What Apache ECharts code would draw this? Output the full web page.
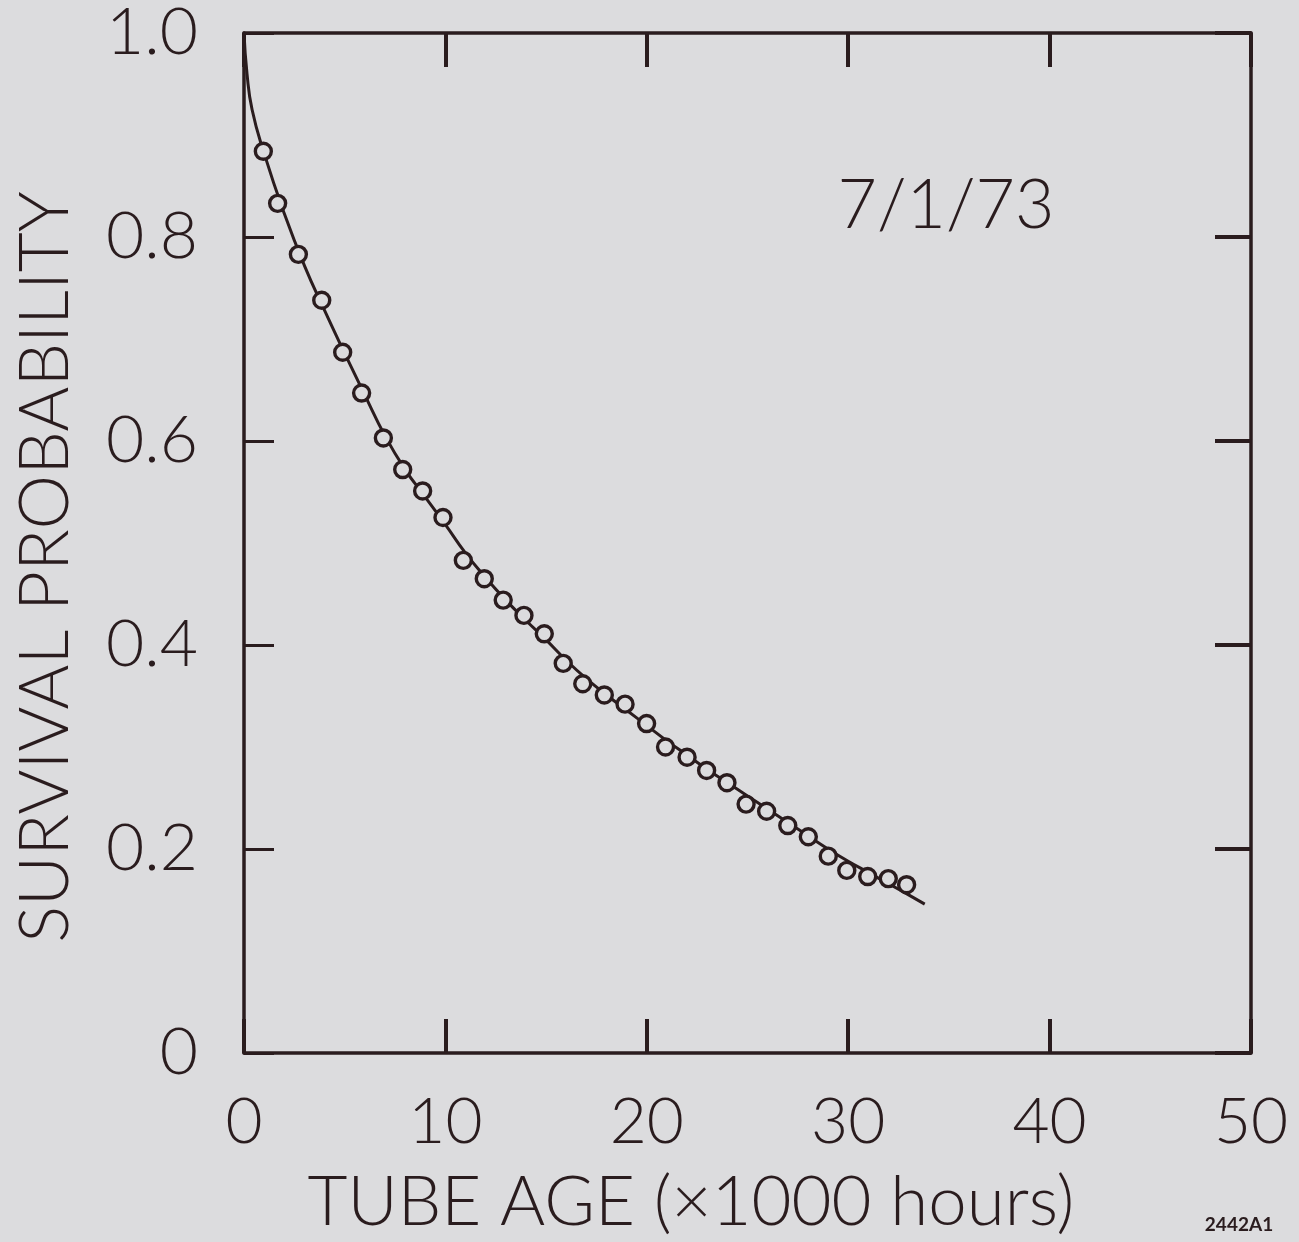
<!DOCTYPE html>
<html>
<head>
<meta charset="utf-8">
<script src="https://cdn.jsdelivr.net/npm/echarts@6/dist/echarts.min.js"></script>
<style>
html,body{margin:0;padding:0;background:#dcdcde;}
#chart{width:1299px;height:1242px;}
</style>
</head>
<body>
<div id="chart"></div>
<script>
// Observed survival probability points (tube age in thousands of hours)
const ageK = [0.96,1.67,2.70,3.86,4.90,5.84,6.92,7.88,8.87,9.88,10.89,11.93,12.87,13.90,14.91,15.85,16.82,17.89,18.92,19.99,20.93,22.0,22.97,23.98,24.93,25.95,27.0,28.02,29.01,29.93,30.97,31.99,32.90];
const survival = [0.884,0.833,0.783,0.738,0.687,0.647,0.603,0.572,0.551,0.525,0.483,0.465,0.444,0.429,0.411,0.382,0.362,0.351,0.342,0.323,0.300,0.290,0.277,0.265,0.244,0.237,0.223,0.212,0.193,0.179,0.173,0.171,0.165];
// Fitted curve
const fitAge = [0,0.15,0.4,1,2,3,4,5,6,7,8,9,10,11,12,13,14,15,16,17,18,19,20,21,22,23,24,25,26,27,28,29,30,31,32,33,33.8];
const fitSurv = [1.0,0.96,0.925,0.882,0.823,0.772,0.728,0.686,0.645,0.605,0.572,0.545,0.518,0.490,0.466,0.444,0.424,0.405,0.385,0.367,0.351,0.336,0.321,0.306,0.292,0.278,0.265,0.252,0.239,0.226,0.213,0.200,0.188,0.177,0.166,0.155,0.146];
const xTicks = [0,10,20,30,40,50];
const yTicks = [0,0.2,0.4,0.6,0.8,1.0];
const yTickText = ['0','0.2','0.4','0.6','0.8','1.0'];

const ink = '#2a1c1e';
const font = 'Lato, "DejaVu Sans", sans-serif';

const chart = echarts.init(document.getElementById('chart'));
const line = {onZero:false,lineStyle:{color:ink,width:3.5}};
chart.setOption({
  backgroundColor:'#dcdcde',
  animation:false,
  grid:{left:244,right:48,top:33,bottom:189},
  xAxis:[
    {type:'value',position:'bottom',min:0,max:50,interval:10,
     axisLine:line,splitLine:{show:false},
     axisTick:{inside:true,length:34,lineStyle:{color:ink,width:4}},
     axisLabel:{margin:37,color:ink,fontSize:64,fontFamily:font,fontWeight:300,
       formatter:v=>String(xTicks[xTicks.indexOf(v)])}},
    {type:'value',position:'top',min:0,max:50,interval:10,
     axisLine:line,splitLine:{show:false},
     axisTick:{inside:true,length:34,lineStyle:{color:ink,width:4}},
     axisLabel:{show:false}}
  ],
  yAxis:[
    {type:'value',position:'left',min:0,max:1,interval:0.2,
     axisLine:line,splitLine:{show:false},
     axisTick:{inside:true,length:30,lineStyle:{color:ink,width:3}},
     axisLabel:{margin:46,color:ink,fontSize:66,fontFamily:font,fontWeight:300,
       formatter:v=>{const i=yTicks.findIndex(t=>Math.abs(t-v)<1e-6);return i>=0?yTickText[i]:'';}}},
    {type:'value',position:'right',min:0,max:1,interval:0.2,
     axisLine:line,splitLine:{show:false},
     axisTick:{inside:true,length:36,lineStyle:{color:ink,width:4}},
     axisLabel:{show:false}}
  ],
  series:[
    {type:'line',smooth:true,showSymbol:false,symbol:'none',
     data:fitAge.map((x,i)=>[x,fitSurv[i]]),
     lineStyle:{color:ink,width:3},z:2},
    {type:'scatter',symbol:'circle',symbolSize:16,
     data:ageK.map((x,i)=>[x,survival[i]]),
     itemStyle:{color:'#dcdcde',borderColor:ink,borderWidth:3.4,opacity:1},z:3}
  ],
  graphic:[
    {type:'text',x:46,y:567,rotation:Math.PI/2,
     style:{text:'SURVIVAL PROBABILITY',fill:ink,font:'300 69px '+font,textAlign:'center',textVerticalAlign:'middle'}},
    {type:'text',x:691,y:1203,
     style:{text:'TUBE AGE (×1000 hours)',fill:ink,font:'300 69px '+font,textAlign:'center',textVerticalAlign:'middle'}},
    {type:'text',x:946,y:206,
     style:{text:'7/1/73',fill:ink,font:'300 68px '+font,textAlign:'center',textVerticalAlign:'middle'}},
    {type:'text',x:1239,y:1225,
     style:{text:'2442A1',fill:ink,font:'bold 19px '+font,textAlign:'center',textVerticalAlign:'middle'}}
  ]
});
</script>
</body>
</html>
